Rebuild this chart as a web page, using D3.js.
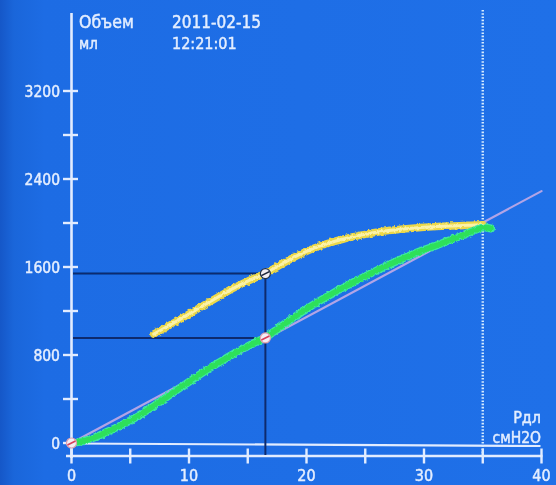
<!DOCTYPE html>
<html>
<head>
<meta charset="utf-8">
<script src="https://cdn.jsdelivr.net/npm/d3@7"></script>
<style>
  html, body { margin: 0; padding: 0; background: #1c6ce4; overflow: hidden; }
  svg { display: block; }
  text { font-family: "DejaVu Sans Condensed", "DejaVu Sans", sans-serif; font-stretch: condensed; fill: #e4eeff; stroke: #e4eeff; stroke-width: 0.45; }
</style>
</head>
<body>
<svg id="chart" width="556" height="485"></svg>
<script>
// Pressure (cmH2O) / volume (ml) loop: inflation and deflation limbs
const inflationP = [0, 1, 2, 3, 4, 5, 6, 7, 8, 9, 10, 11, 12, 13, 14, 15, 16, 16.5, 17, 18, 19, 20, 21, 22, 23, 24, 25, 26, 27, 28, 29, 30, 31, 32, 33, 34, 35, 35.7];
const inflationV = [0, 18, 52, 100, 150, 205, 268, 336, 410, 484, 556, 628, 696, 760, 822, 880, 932, 955, 995, 1072, 1148, 1218, 1285, 1346, 1406, 1462, 1516, 1570, 1620, 1668, 1714, 1756, 1794, 1836, 1876, 1920, 1958, 1950];

const deflationP = [7, 8, 9, 10, 11, 12, 13, 14, 15, 16, 16.5, 17, 18, 19, 20, 21, 22, 23, 24, 25, 26, 27, 28, 29, 30, 31, 32, 33, 34, 35];
const deflationV = [990, 1050, 1110, 1172, 1236, 1298, 1360, 1420, 1472, 1518, 1540, 1572, 1632, 1692, 1742, 1786, 1820, 1850, 1876, 1897, 1916, 1931, 1943, 1953, 1961, 1967, 1972, 1976, 1980, 1985];

// compliance reference line through the origin
const complianceP = [0, 40];
const complianceV = [0, 2290];

// cursor readout at a chosen pressure
const cursorP = 16.5;
const cursorV = [1540, 955];

// end-inspiratory pressure marker
const plateauP = 35;

const xTicks = [0, 5, 10, 15, 20, 25, 30, 35, 40];
const xTickLabels = ["0", "10", "20", "30", "40"];
const yTicks = [0, 400, 800, 1200, 1600, 2000, 2400, 2800, 3200];
const yTickLabels = ["0", "800", "1600", "2400", "3200"];

const header = { yTitle: "Объем", yUnit: "мл", date: "2011-02-15", time: "12:21:01", xTitle: "Рдл", xUnit: "смН2О" };

const svg = d3.select("#chart");
const x = d3.scaleLinear().domain([0, 40]).range([71.5, 541.5]);
const y = d3.scaleLinear().domain([0, 3200]).range([443, 91]);
const axisY = 456;

// background with darker left edge
const defs = svg.append("defs");
const bg = defs.append("linearGradient").attr("id", "bg").attr("x1", 0).attr("x2", 1).attr("y1", 0).attr("y2", 0);
bg.append("stop").attr("offset", "0").attr("stop-color", "#1557c8");
bg.append("stop").attr("offset", "0.025").attr("stop-color", "#1a66da");
bg.append("stop").attr("offset", "0.08").attr("stop-color", "#1d6ce4");
bg.append("stop").attr("offset", "1").attr("stop-color", "#1f70e8");
svg.append("rect").attr("width", 556).attr("height", 485).attr("fill", "url(#bg)");

// rough trace filter
const rough = defs.append("filter").attr("id", "rough").attr("x", "-5%").attr("y", "-5%").attr("width", "110%").attr("height", "110%");
rough.append("feTurbulence").attr("type", "fractalNoise").attr("baseFrequency", 0.35).attr("numOctaves", 2).attr("seed", 4).attr("result", "n");
rough.append("feDisplacementMap").attr("in", "SourceGraphic").attr("in2", "n").attr("scale", 3.2).attr("xChannelSelector", "R").attr("yChannelSelector", "G").attr("result", "d");
rough.append("feGaussianBlur").attr("in", "d").attr("stdDeviation", 0.5);

const soft = defs.append("filter").attr("id", "soft");
soft.append("feGaussianBlur").attr("stdDeviation", 0.45);

const axisColor = "#e2ecff";
const g = svg.append("g").attr("filter", "url(#soft)");

// y axis line and ticks
g.append("line").attr("x1", x(0)).attr("x2", x(0)).attr("y1", 13).attr("y2", axisY + 2)
  .attr("stroke", axisColor).attr("stroke-width", 2.6);
g.selectAll(".yt").data(yTicks).join("line")
  .attr("x1", x(0) - 8.5).attr("x2", x(0) + 6.5)
  .attr("y1", d => y(d)).attr("y2", d => y(d))
  .attr("stroke", axisColor).attr("stroke-width", 2.4);
g.selectAll(".yl").data(yTickLabels).join("text")
  .attr("x", 60).attr("y", d => y(+d) + 5.5)
  .attr("text-anchor", "end").attr("font-size", 15.5)
  .text(d => d);

// x axis line and ticks
g.append("line").attr("x1", 66).attr("x2", x(40) + 1).attr("y1", axisY).attr("y2", axisY)
  .attr("stroke", axisColor).attr("stroke-width", 2.6);
g.selectAll(".xt").data(xTicks).join("line")
  .attr("x1", d => x(d)).attr("x2", d => x(d))
  .attr("y1", axisY - 7.5).attr("y2", axisY + 7.5)
  .attr("stroke", axisColor).attr("stroke-width", 2.4);
g.selectAll(".xl").data(xTickLabels).join("text")
  .attr("x", d => x(+d)).attr("y", 480.5)
  .attr("text-anchor", "middle").attr("font-size", 16)
  .text(d => d);

// zero-volume baseline
g.append("line").attr("x1", x(0)).attr("x2", x(40) - 1).attr("y1", y(0) + 0.5).attr("y2", y(0) + 3)
  .attr("stroke", axisColor).attr("stroke-width", 2.2);

// plateau marker (dotted)
g.append("line").attr("x1", x(plateauP)).attr("x2", x(plateauP)).attr("y1", 10).attr("y2", axisY)
  .attr("stroke", "#d6ecff").attr("stroke-width", 2.4).attr("stroke-dasharray", "1.6,1.6");

// header texts
g.append("text").attr("x", 79).attr("y", 28).attr("font-size", 17.5).text(header.yTitle);
g.append("text").attr("x", 79).attr("y", 49).attr("font-size", 15).text(header.yUnit);
g.append("text").attr("x", 172).attr("y", 28).attr("font-size", 17).text(header.date);
g.append("text").attr("x", 172).attr("y", 49).attr("font-size", 16).text(header.time);
g.append("text").attr("x", 541).attr("y", 423).attr("text-anchor", "end").attr("font-size", 16).text(header.xTitle);
g.append("text").attr("x", 541).attr("y", 442.5).attr("text-anchor", "end").attr("font-size", 15.5).text(header.xUnit);

// cursor guide lines
const guide = "#0c2c6e";
cursorV.forEach(v => {
  g.append("line").attr("x1", x(0) + 1.5).attr("x2", x(cursorP)).attr("y1", y(v)).attr("y2", y(v))
    .attr("stroke", guide).attr("stroke-width", 2);
});
g.append("line").attr("x1", x(cursorP)).attr("x2", x(cursorP)).attr("y1", y(cursorV[0])).attr("y2", axisY - 1)
  .attr("stroke", guide).attr("stroke-width", 2);

// compliance line
g.append("line")
  .attr("x1", x(complianceP[0])).attr("y1", y(complianceV[0]))
  .attr("x2", x(complianceP[1])).attr("y2", y(complianceV[1]))
  .attr("stroke", "#b2a4e6").attr("stroke-width", 2.2).attr("stroke-linecap", "round");

const line = d3.line().x(d => x(d[0])).y(d => y(d[1])).curve(d3.curveCatmullRom);
const inflation = inflationP.map((p, i) => [p, inflationV[i]]);
const deflation = deflationP.map((p, i) => [p, deflationV[i]]);

// deflation limb (yellow)
svg.append("path").attr("d", line(deflation)).attr("fill", "none")
  .attr("stroke", "#ecd84a").attr("stroke-width", 7.5).attr("stroke-linecap", "round").attr("filter", "url(#rough)");
svg.append("path").attr("d", line(deflation)).attr("fill", "none")
  .attr("stroke", "#fbf2a8").attr("stroke-width", 3).attr("stroke-linecap", "round").attr("filter", "url(#rough)");

// inflation limb (green)
svg.append("path").attr("d", line(inflation)).attr("fill", "none")
  .attr("stroke", "#3ee8a0").attr("stroke-width", 8).attr("stroke-linecap", "round").attr("filter", "url(#rough)");
svg.append("path").attr("d", line(inflation)).attr("fill", "none")
  .attr("stroke", "#2fe05a").attr("stroke-width", 5.5).attr("stroke-linecap", "round").attr("filter", "url(#rough)");

// cursor markers
const markers = [[0, 0], [cursorP, cursorV[1]], [cursorP, cursorV[0]]];
const mk = svg.append("g").attr("filter", "url(#soft)");
markers.forEach((m, i) => {
  mk.append("circle").attr("cx", x(m[0])).attr("cy", y(m[1])).attr("r", 5)
    .attr("fill", "#f3eef4").attr("stroke", i === 2 ? "#20304a" : "#e0a0b0").attr("stroke-width", 1.2);
  mk.append("line").attr("x1", x(m[0]) - 4).attr("x2", x(m[0]) + 4)
    .attr("y1", y(m[1]) + 2).attr("y2", y(m[1]) - 2)
    .attr("stroke", i === 2 ? "#1a2238" : "#d8405a").attr("stroke-width", 1.6);
});
</script>
</body>
</html>
